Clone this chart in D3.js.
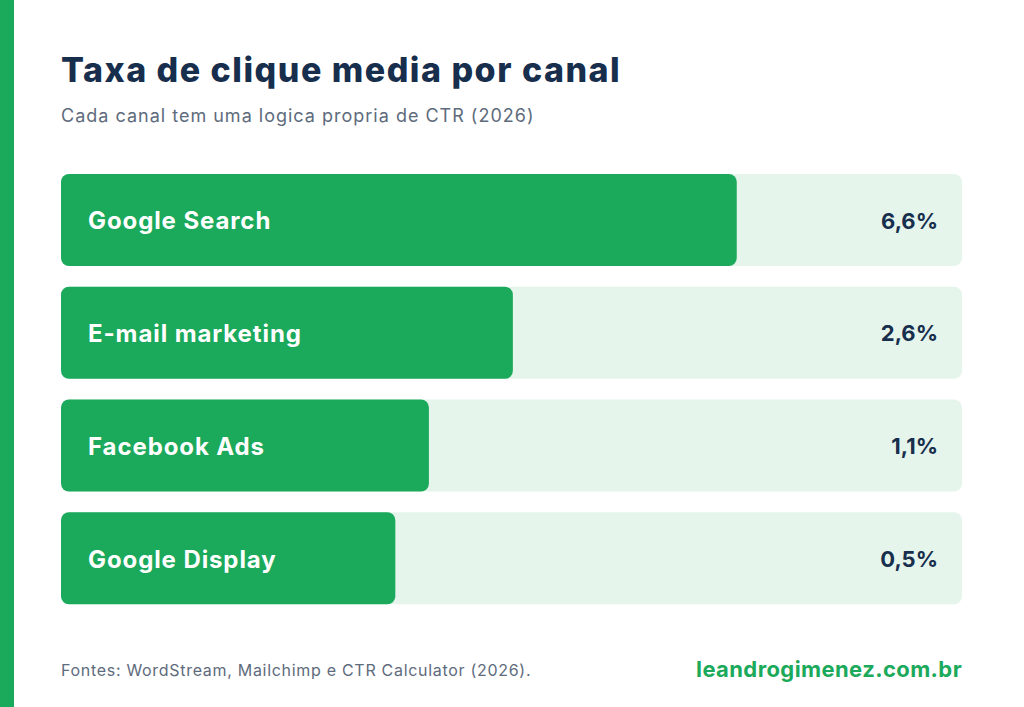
<!DOCTYPE html>
<html>
<head>
<meta charset="utf-8">
<script src="https://cdn.jsdelivr.net/npm/d3@7"></script>
<style>
  html, body { margin: 0; padding: 0; background: #fff; }
  svg { display: block; font-family: Inter, "Noto Sans", sans-serif; }
</style>
</head>
<body>
<div id="chart"></div>
<script>
// data
var canais = ["Google Search", "E-mail marketing", "Facebook Ads", "Google Display"];
var ctr = [6.6, 2.6, 1.1, 0.5];
var rotulos = ["6,6%", "2,6%", "1,1%", "0,5%"];

var W = 1024, H = 707;
var mLeft = 61, mRight = 962, mTop = 174, mBottom = 604;
var trackW = mRight - mLeft;

var svg = d3.select("#chart").append("svg")
  .attr("width", W)
  .attr("height", H);

// green stripe on the left
svg.append("rect").attr("x", 0).attr("y", 0).attr("width", 14).attr("height", H).attr("fill", "#1BA95B");

svg.append("text")
  .attr("x", mLeft).attr("y", 82)
  .attr("fill", "#172E4D")
  .style("font-size", "34px").style("font-weight", 800)
  .style("letter-spacing", "1.5px")
  .text("Taxa de clique media por canal");

svg.append("text")
  .attr("x", mLeft).attr("y", 122)
  .attr("fill", "#5E6B7C")
  .style("font-size", "18px").style("letter-spacing", "1px")
  .text("Cada canal tem uma logica propria de CTR (2026)");

// bars have a minimum width so the label always fits
var x = d3.scaleLinear().domain([0, d3.max(ctr)]).range([0.34 * trackW, 0.75 * trackW]);
var y = d3.scaleBand().domain(canais).range([mTop, mBottom + 21]);
var barH = 92;

var row = svg.selectAll(".row")
  .data(canais)
  .enter().append("g")
  .attr("class", "row")
  .attr("transform", function(d) { return "translate(" + mLeft + "," + y(d) + ")"; });

row.append("rect")
  .attr("width", trackW).attr("height", barH)
  .attr("rx", 8).attr("ry", 8)
  .attr("fill", "#E5F5EC");

row.append("rect")
  .attr("width", function(d, i) { return x(ctr[i]); })
  .attr("height", barH)
  .attr("rx", 8).attr("ry", 8)
  .attr("fill", "#1BA95B");

row.append("text")
  .attr("x", 27).attr("y", barH / 2 + 1)
  .attr("dy", "0.35em")
  .attr("fill", "#fff")
  .style("font-size", "24px").style("font-weight", 700)
  .style("letter-spacing", "0.9px")
  .text(function(d) { return d; });

row.append("text")
  .attr("x", trackW - 24).attr("y", barH / 2 + 1)
  .attr("dy", "0.35em")
  .attr("text-anchor", "end")
  .attr("fill", "#172E4D")
  .style("font-size", "22px").style("font-weight", 700)
  .text(function(d, i) { return rotulos[i]; });

svg.append("text")
  .attr("x", mLeft).attr("y", 676)
  .attr("fill", "#5E6B7C")
  .style("font-size", "16px").style("letter-spacing", "0.7px")
  .text("Fontes: WordStream, Mailchimp e CTR Calculator (2026).");

svg.append("text")
  .attr("x", mRight).attr("y", 677)
  .attr("text-anchor", "end")
  .attr("fill", "#1BA95B")
  .style("font-size", "22px").style("font-weight", 700)
  .style("letter-spacing", "0.4px")
  .text("leandrogimenez.com.br");
</script>
</body>
</html>
